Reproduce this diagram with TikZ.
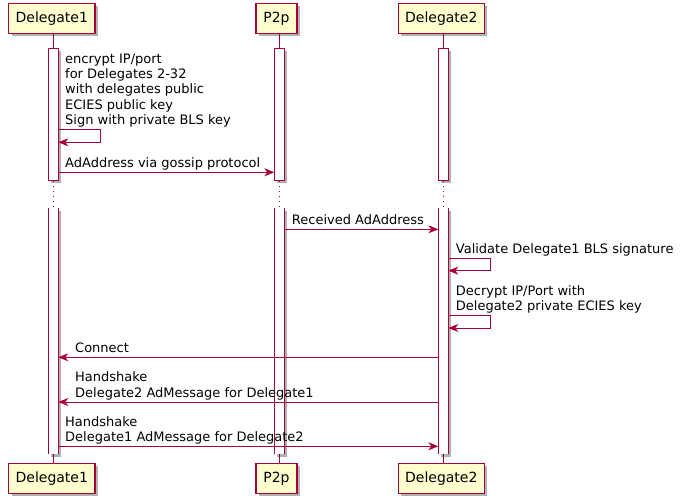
\documentclass[tikz,border=0pt]{standalone}
\usepackage{fontspec}
\setmainfont{DejaVu Sans}
\usetikzlibrary{arrows.meta,shadows}
\definecolor{pline}{HTML}{A80036}
\definecolor{pfill}{HTML}{FEFECE}
\begin{document}
\begin{tikzpicture}[x=1pt,y=-1pt,
  shad/.style={drop shadow={shadow xshift=3pt,shadow yshift=-3pt,opacity=0.3,fill=black}},
  partbox/.style={draw=pline,fill=pfill,line width=1.3pt,minimum height=30pt,inner sep=0pt,
    font=\fontsize{14}{16}\selectfont,shad},
  actbar/.style={draw=pline,fill=white,line width=0.9pt,shad},
  life/.style={draw=pline,line width=0.9pt},
  lifedot/.style={draw=pline,line width=0.9pt,dash pattern=on 1pt off 4pt},
  msg/.style={anchor=base west,inner sep=0pt,align=left,font=\fontsize{13}{15.2}\selectfont},
  arr/.style={draw=pline,line width=0.9pt,-{Stealth[length=10pt,width=8pt,inset=3pt]}}]
\useasboundingbox (0,0) rectangle (681,503);
\fill[white] (0,0) rectangle (681,503);
% lifelines
\draw[life] (53.3,33.3) -- (53.3,48.3);
\draw[life] (279.3,33.3) -- (279.3,48.3);
\draw[life] (443.3,33.3) -- (443.3,48.3);
\draw[lifedot] (53.3,181) -- (53.3,208.3);
\draw[lifedot] (279.3,181) -- (279.3,208.3);
\draw[lifedot] (443.3,181) -- (443.3,208.3);
\draw[life] (53.3,454.3) -- (53.3,463.3);
\draw[life] (279.3,454.3) -- (279.3,463.3);
\draw[life] (443.3,454.3) -- (443.3,463.3);
% activation bars, first segment
\path[actbar] (48.3,48.3) rectangle (58.3,180);
\path[actbar] (274.3,48.3) rectangle (284.3,180);
\path[actbar] (438.3,48.3) rectangle (448.3,180);
% activation bars, second segment (open ends)
\fill[white,shad] (48.3,208.3) rectangle (58.3,454.3);
\fill[white,shad] (274.3,208.3) rectangle (284.3,454.3);
\fill[white,shad] (438.3,208.3) rectangle (448.3,454.3);
\draw[life] (48.3,208.3) -- (48.3,454.3) (58.3,208.3) -- (58.3,454.3);
\draw[life] (274.3,208.3) -- (274.3,454.3) (284.3,208.3) -- (284.3,454.3);
\draw[life] (438.3,208.3) -- (438.3,454.3) (448.3,208.3) -- (448.3,454.3);
% participants
\node[partbox,minimum width=86.3pt] (d1t) at (51.8,18.3) {Delegate1};
\node[partbox,minimum width=41pt] (p2t) at (276.5,18.3) {P2p};
\node[partbox,minimum width=86pt] (d2t) at (441.3,18.3) {Delegate2};
\node[partbox,minimum width=86.3pt] (d1b) at (51.8,478.3) {Delegate1};
\node[partbox,minimum width=41pt] (p2b) at (276.5,478.3) {P2p};
\node[partbox,minimum width=86pt] (d2b) at (441.3,478.3) {Delegate2};
% coordinates for message ends
\coordinate (s1a) at (58.3,129.3);
\coordinate (s1b) at (100,129.3);
\coordinate (s1c) at (100,142.3);
\coordinate (s1d) at (58.3,142.3);
\coordinate (a2s) at (58.3,172.3);
\coordinate (a2e) at (274.3,172.3);
\coordinate (a3s) at (284.3,229.3);
\coordinate (a3e) at (438.3,229.3);
\coordinate (s4a) at (448.3,258.7);
\coordinate (s4b) at (490.3,258.7);
\coordinate (s4c) at (490.3,270.7);
\coordinate (s4d) at (448.3,270.7);
\coordinate (s5a) at (448.3,315.7);
\coordinate (s5b) at (490.3,315.7);
\coordinate (s5c) at (490.3,328);
\coordinate (s5d) at (448.3,328);
\coordinate (a6s) at (438.3,357.3);
\coordinate (a6e) at (58.3,357.3);
\coordinate (a7s) at (438.3,402);
\coordinate (a7e) at (58.3,402);
\coordinate (a8s) at (58.3,446.3);
\coordinate (a8e) at (438.3,446.3);
% messages
\draw[arr] (s1a) -- (s1b) -- (s1c) -- (s1d);
\node[msg] (m1) at (65,124.3) {encrypt IP/port\\for Delegates 2-32\\with delegates public\\ECIES public key\\Sign with private BLS key};
\draw[arr] (a2s) -- (a2e);
\node[msg] (m2) at (65,167.3) {AdAddress via gossip protocol};
\draw[arr] (a3s) -- (a3e);
\node[msg] (m3) at (291.7,224.3) {Received AdAddress};
\draw[arr] (s4a) -- (s4b) -- (s4c) -- (s4d);
\node[msg] (m4) at (455.7,253.7) {Validate Delegate1 BLS signature};
\draw[arr] (s5a) -- (s5b) -- (s5c) -- (s5d);
\node[msg] (m5) at (455.7,310.7) {Decrypt IP/Port with\\Delegate2 private ECIES key};
\draw[arr] (a6s) -- (a6e);
\node[msg] (m6) at (75,352.3) {Connect};
\draw[arr] (a7s) -- (a7e);
\node[msg] (m7) at (75,397) {Handshake\\Delegate2 AdMessage for Delegate1};
\draw[arr] (a8s) -- (a8e);
\node[msg] (m8) at (65,441.3) {Handshake\\Delegate1 AdMessage for Delegate2};
\end{tikzpicture}
\end{document}
